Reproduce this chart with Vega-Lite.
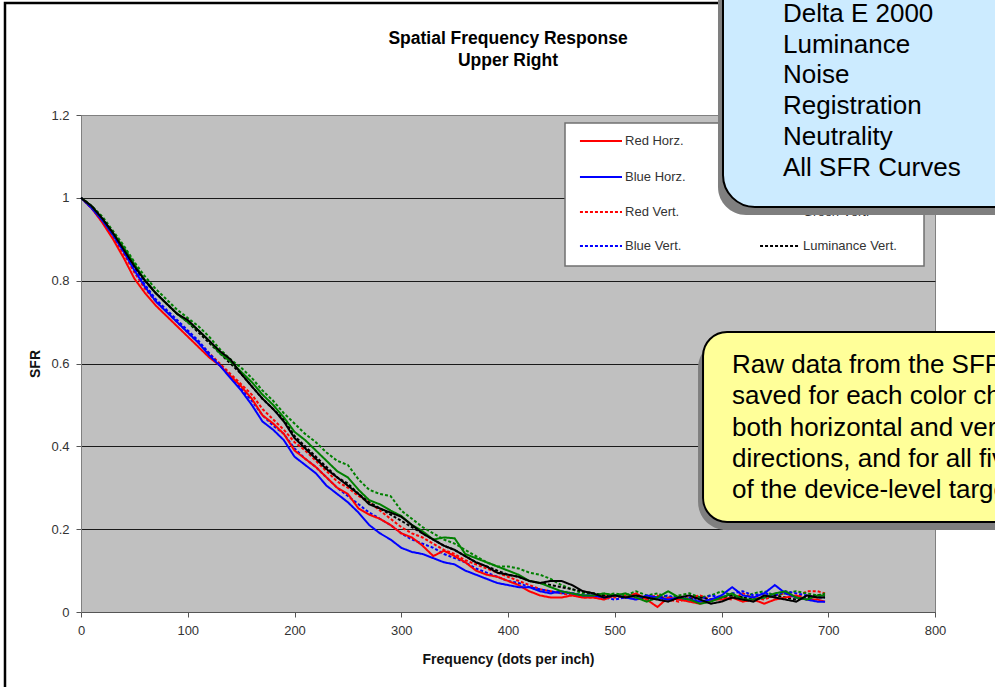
{
  "$schema": "https://vega.github.io/schema/vega-lite/v6.json",
  "width": 854,
  "height": 497,
  "autosize": "none",
  "padding": {"left": 81, "top": 115, "right": 60, "bottom": 75},
  "background": "white",
  "config": {
    "view": {"fill": "#C0C0C0", "stroke": "#808080", "strokeWidth": 1},
    "font": "Liberation Sans",
    "axis": {"labelFont": "Liberation Sans", "titleFont": "Liberation Sans"}
  },
  "datasets": {
    "sfr": [
      {"f":0,"rh":1,"gh":1,"bh":1,"lh":1,"rv":1,"gv":1,"bv":1,"lv":1},
      {"f":10,"rh":0.975,"gh":0.98,"bh":0.975,"lh":0.98,"rv":0.975,"gv":0.98,"bv":0.975,"lv":0.98},
      {"f":20,"rh":0.94,"gh":0.95,"bh":0.945,"lh":0.95,"rv":0.945,"gv":0.955,"bv":0.945,"lv":0.95},
      {"f":30,"rh":0.9,"gh":0.915,"bh":0.91,"lh":0.915,"rv":0.905,"gv":0.92,"bv":0.91,"lv":0.915},
      {"f":40,"rh":0.855,"gh":0.88,"bh":0.87,"lh":0.875,"rv":0.865,"gv":0.885,"bv":0.87,"lv":0.875},
      {"f":50,"rh":0.805,"gh":0.84,"bh":0.825,"lh":0.835,"rv":0.82,"gv":0.845,"bv":0.83,"lv":0.835},
      {"f":60,"rh":0.77,"gh":0.8,"bh":0.785,"lh":0.8,"rv":0.78,"gv":0.81,"bv":0.79,"lv":0.8},
      {"f":70,"rh":0.74,"gh":0.77,"bh":0.75,"lh":0.77,"rv":0.75,"gv":0.78,"bv":0.755,"lv":0.77},
      {"f":80,"rh":0.715,"gh":0.745,"bh":0.725,"lh":0.745,"rv":0.725,"gv":0.755,"bv":0.73,"lv":0.745},
      {"f":90,"rh":0.69,"gh":0.72,"bh":0.7,"lh":0.72,"rv":0.7,"gv":0.73,"bv":0.705,"lv":0.72},
      {"f":100,"rh":0.665,"gh":0.7,"bh":0.675,"lh":0.705,"rv":0.675,"gv":0.71,"bv":0.68,"lv":0.7},
      {"f":110,"rh":0.64,"gh":0.68,"bh":0.65,"lh":0.68,"rv":0.65,"gv":0.69,"bv":0.655,"lv":0.675},
      {"f":120,"rh":0.615,"gh":0.655,"bh":0.62,"lh":0.655,"rv":0.625,"gv":0.665,"bv":0.625,"lv":0.65},
      {"f":130,"rh":0.595,"gh":0.625,"bh":0.595,"lh":0.63,"rv":0.6,"gv":0.635,"bv":0.595,"lv":0.625},
      {"f":140,"rh":0.57,"gh":0.605,"bh":0.565,"lh":0.61,"rv":0.575,"gv":0.61,"bv":0.57,"lv":0.6},
      {"f":150,"rh":0.545,"gh":0.58,"bh":0.535,"lh":0.575,"rv":0.55,"gv":0.59,"bv":0.54,"lv":0.575},
      {"f":160,"rh":0.515,"gh":0.555,"bh":0.5,"lh":0.545,"rv":0.525,"gv":0.565,"bv":0.51,"lv":0.545},
      {"f":170,"rh":0.475,"gh":0.525,"bh":0.46,"lh":0.515,"rv":0.49,"gv":0.535,"bv":0.475,"lv":0.515},
      {"f":180,"rh":0.455,"gh":0.5,"bh":0.44,"lh":0.49,"rv":0.465,"gv":0.51,"bv":0.45,"lv":0.49},
      {"f":190,"rh":0.43,"gh":0.47,"bh":0.415,"lh":0.46,"rv":0.44,"gv":0.48,"bv":0.43,"lv":0.465},
      {"f":200,"rh":0.39,"gh":0.435,"bh":0.375,"lh":0.42,"rv":0.41,"gv":0.455,"bv":0.395,"lv":0.425},
      {"f":210,"rh":0.37,"gh":0.415,"bh":0.355,"lh":0.395,"rv":0.39,"gv":0.43,"bv":0.37,"lv":0.4},
      {"f":220,"rh":0.35,"gh":0.39,"bh":0.335,"lh":0.37,"rv":0.365,"gv":0.41,"bv":0.35,"lv":0.375},
      {"f":230,"rh":0.325,"gh":0.365,"bh":0.305,"lh":0.345,"rv":0.34,"gv":0.385,"bv":0.325,"lv":0.35},
      {"f":240,"rh":0.3,"gh":0.34,"bh":0.285,"lh":0.325,"rv":0.315,"gv":0.365,"bv":0.3,"lv":0.325},
      {"f":250,"rh":0.285,"gh":0.325,"bh":0.265,"lh":0.305,"rv":0.3,"gv":0.355,"bv":0.28,"lv":0.31},
      {"f":260,"rh":0.25,"gh":0.295,"bh":0.24,"lh":0.285,"rv":0.28,"gv":0.32,"bv":0.26,"lv":0.285},
      {"f":270,"rh":0.235,"gh":0.27,"bh":0.21,"lh":0.26,"rv":0.265,"gv":0.295,"bv":0.24,"lv":0.265},
      {"f":280,"rh":0.225,"gh":0.26,"bh":0.19,"lh":0.25,"rv":0.245,"gv":0.285,"bv":0.225,"lv":0.25},
      {"f":290,"rh":0.21,"gh":0.245,"bh":0.175,"lh":0.24,"rv":0.225,"gv":0.28,"bv":0.21,"lv":0.235},
      {"f":300,"rh":0.19,"gh":0.232,"bh":0.155,"lh":0.23,"rv":0.205,"gv":0.245,"bv":0.19,"lv":0.22},
      {"f":310,"rh":0.18,"gh":0.21,"bh":0.145,"lh":0.21,"rv":0.19,"gv":0.225,"bv":0.175,"lv":0.205},
      {"f":320,"rh":0.16,"gh":0.195,"bh":0.14,"lh":0.19,"rv":0.18,"gv":0.205,"bv":0.165,"lv":0.19},
      {"f":330,"rh":0.135,"gh":0.175,"bh":0.13,"lh":0.175,"rv":0.165,"gv":0.19,"bv":0.155,"lv":0.175},
      {"f":340,"rh":0.148,"gh":0.18,"bh":0.12,"lh":0.16,"rv":0.15,"gv":0.175,"bv":0.14,"lv":0.16},
      {"f":350,"rh":0.135,"gh":0.178,"bh":0.115,"lh":0.15,"rv":0.14,"gv":0.165,"bv":0.13,"lv":0.15},
      {"f":360,"rh":0.12,"gh":0.14,"bh":0.1,"lh":0.135,"rv":0.125,"gv":0.15,"bv":0.12,"lv":0.135},
      {"f":370,"rh":0.1,"gh":0.13,"bh":0.09,"lh":0.12,"rv":0.115,"gv":0.135,"bv":0.105,"lv":0.12},
      {"f":380,"rh":0.09,"gh":0.12,"bh":0.08,"lh":0.11,"rv":0.105,"gv":0.12,"bv":0.095,"lv":0.11},
      {"f":390,"rh":0.085,"gh":0.11,"bh":0.07,"lh":0.095,"rv":0.095,"gv":0.11,"bv":0.085,"lv":0.1},
      {"f":400,"rh":0.075,"gh":0.1,"bh":0.065,"lh":0.09,"rv":0.085,"gv":0.11,"bv":0.075,"lv":0.09},
      {"f":410,"rh":0.065,"gh":0.09,"bh":0.06,"lh":0.085,"rv":0.075,"gv":0.105,"bv":0.07,"lv":0.085},
      {"f":420,"rh":0.05,"gh":0.075,"bh":0.06,"lh":0.075,"rv":0.065,"gv":0.095,"bv":0.06,"lv":0.075},
      {"f":430,"rh":0.04,"gh":0.07,"bh":0.05,"lh":0.07,"rv":0.055,"gv":0.09,"bv":0.055,"lv":0.07},
      {"f":440,"rh":0.035,"gh":0.06,"bh":0.045,"lh":0.075,"rv":0.05,"gv":0.08,"bv":0.05,"lv":0.065},
      {"f":450,"rh":0.035,"gh":0.05,"bh":0.05,"lh":0.075,"rv":0.045,"gv":0.065,"bv":0.045,"lv":0.06},
      {"f":460,"rh":0.04,"gh":0.045,"bh":0.045,"lh":0.065,"rv":0.04,"gv":0.055,"bv":0.045,"lv":0.055},
      {"f":470,"rh":0.035,"gh":0.04,"bh":0.04,"lh":0.05,"rv":0.035,"gv":0.045,"bv":0.04,"lv":0.05},
      {"f":480,"rh":0.035,"gh":0.04,"bh":0.04,"lh":0.045,"rv":0.035,"gv":0.045,"bv":0.04,"lv":0.045},
      {"f":490,"rh":0.03,"gh":0.045,"bh":0.035,"lh":0.035,"rv":0.04,"gv":0.04,"bv":0.035,"lv":0.04},
      {"f":500,"rh":0.04,"gh":0.04,"bh":0.04,"lh":0.04,"rv":0.035,"gv":0.045,"bv":0.03,"lv":0.04},
      {"f":510,"rh":0.035,"gh":0.045,"bh":0.035,"lh":0.035,"rv":0.04,"gv":0.04,"bv":0.035,"lv":0.035},
      {"f":520,"rh":0.045,"gh":0.035,"bh":0.03,"lh":0.04,"rv":0.03,"gv":0.05,"bv":0.04,"lv":0.04},
      {"f":530,"rh":0.03,"gh":0.025,"bh":0.04,"lh":0.035,"rv":0.035,"gv":0.04,"bv":0.03,"lv":0.03},
      {"f":540,"rh":0.012,"gh":0.035,"bh":0.035,"lh":0.03,"rv":0.04,"gv":0.045,"bv":0.035,"lv":0.035},
      {"f":550,"rh":0.035,"gh":0.05,"bh":0.03,"lh":0.025,"rv":0.03,"gv":0.035,"bv":0.04,"lv":0.03},
      {"f":560,"rh":0.03,"gh":0.035,"bh":0.035,"lh":0.035,"rv":0.025,"gv":0.04,"bv":0.03,"lv":0.035},
      {"f":570,"rh":0.025,"gh":0.03,"bh":0.03,"lh":0.04,"rv":0.035,"gv":0.045,"bv":0.035,"lv":0.03},
      {"f":580,"rh":0.02,"gh":0.02,"bh":0.025,"lh":0.03,"rv":0.04,"gv":0.035,"bv":0.03,"lv":0.035},
      {"f":590,"rh":0.03,"gh":0.025,"bh":0.03,"lh":0.02,"rv":0.03,"gv":0.04,"bv":0.04,"lv":0.03},
      {"f":600,"rh":0.03,"gh":0.035,"bh":0.04,"lh":0.025,"rv":0.035,"gv":0.05,"bv":0.035,"lv":0.035},
      {"f":610,"rh":0.035,"gh":0.045,"bh":0.06,"lh":0.035,"rv":0.03,"gv":0.04,"bv":0.045,"lv":0.04},
      {"f":620,"rh":0.025,"gh":0.03,"bh":0.04,"lh":0.03,"rv":0.045,"gv":0.035,"bv":0.05,"lv":0.035},
      {"f":630,"rh":0.03,"gh":0.03,"bh":0.035,"lh":0.025,"rv":0.035,"gv":0.045,"bv":0.04,"lv":0.03},
      {"f":640,"rh":0.02,"gh":0.035,"bh":0.045,"lh":0.04,"rv":0.03,"gv":0.05,"bv":0.045,"lv":0.035},
      {"f":650,"rh":0.03,"gh":0.045,"bh":0.065,"lh":0.035,"rv":0.04,"gv":0.04,"bv":0.04,"lv":0.04},
      {"f":660,"rh":0.035,"gh":0.05,"bh":0.045,"lh":0.03,"rv":0.045,"gv":0.045,"bv":0.05,"lv":0.035},
      {"f":670,"rh":0.04,"gh":0.035,"bh":0.035,"lh":0.025,"rv":0.035,"gv":0.05,"bv":0.045,"lv":0.03},
      {"f":680,"rh":0.03,"gh":0.03,"bh":0.03,"lh":0.04,"rv":0.05,"gv":0.045,"bv":0.04,"lv":0.035},
      {"f":690,"rh":0.03,"gh":0.04,"bh":0.025,"lh":0.035,"rv":0.05,"gv":0.04,"bv":0.035,"lv":0.04},
      {"f":697,"rh":0.025,"gh":0.04,"bh":0.025,"lh":0.035,"rv":0.045,"gv":0.045,"bv":0.035,"lv":0.04}
    ],
    "frame": [{"x1": -71.2, "x2": 950, "y1": 1.4704, "y2": -0.25}],
    "titleLines": [
      {"line": "Spatial Frequency Response", "x": 400, "y": 1.3714},
      {"line": "Upper Right", "x": 400, "y": 1.3183}
    ],
    "legendBox": [{"x1": 453.4, "x2": 789.7, "y1": 1.1807, "y2": 0.8354}],
    "legendItems": [
      {"s": "rh", "label": "Red Horz.", "x1": 467.4, "x2": 506.8, "y": 1.1372},
      {"s": "gh", "label": "Green Horz.", "x1": 636.1, "x2": 673.5, "y": 1.1372},
      {"s": "bh", "label": "Blue Horz.", "x1": 467.4, "x2": 506.8, "y": 1.0503},
      {"s": "lh", "label": "Luminance Horz.", "x1": 636.1, "x2": 673.5, "y": 1.0503},
      {"s": "rv", "label": "Red Vert.", "x1": 467.4, "x2": 506.8, "y": 0.9658},
      {"s": "gv", "label": "Green Vert.", "x1": 636.1, "x2": 673.5, "y": 0.9658},
      {"s": "bv", "label": "Blue Vert.", "x1": 467.4, "x2": 506.8, "y": 0.8837},
      {"s": "lv", "label": "Luminance Vert.", "x1": 636.1, "x2": 673.5, "y": 0.8837}
    ],
    "notes": [
      {"id": "blue", "x1": 601.4, "x2": 950, "y1": 1.6, "y2": 0.9778},
      {"id": "yellow", "x1": 582.7, "x2": 950, "y1": 0.676, "y2": 0.2173}
    ],
    "noteLines": [
      {"id": "blue", "line": "Delta E 2000", "x": 657.6, "y": 1.4245},
      {"id": "blue", "line": "Luminance", "x": 657.6, "y": 1.3504},
      {"id": "blue", "line": "Noise", "x": 657.6, "y": 1.2763},
      {"id": "blue", "line": "Registration", "x": 657.6, "y": 1.2022},
      {"id": "blue", "line": "Neutrality", "x": 657.6, "y": 1.128},
      {"id": "blue", "line": "All SFR Curves", "x": 657.6, "y": 1.0539},
      {"id": "yellow", "line": "Raw data from the SFR analysis is", "x": 609.8, "y": 0.5771},
      {"id": "yellow", "line": "saved for each color channel, in", "x": 609.8, "y": 0.5015},
      {"id": "yellow", "line": "both horizontal and vertical", "x": 609.8, "y": 0.4259},
      {"id": "yellow", "line": "directions, and for all five regions", "x": 609.8, "y": 0.3503},
      {"id": "yellow", "line": "of the device-level target.", "x": 609.8, "y": 0.2748}
    ]
  },
  "layer": [
    {
      "data": {"name": "sfr"},
      "transform": [{"fold": ["rv", "gv", "bv", "lv", "rh", "bh", "gh", "lh"], "as": ["s", "v"]}],
      "mark": {"type": "line", "interpolate": "linear"},
      "encoding": {
        "x": {
          "field": "f", "type": "quantitative",
          "scale": {"domain": [0, 800], "nice": false, "zero": false},
          "axis": {
            "values": [0, 100, 200, 300, 400, 500, 600, 700, 800],
            "title": "Frequency (dots per inch)",
            "grid": false,
            "labelFontSize": 13, "labelColor": "#333333", "labelPadding": 7,
            "labelFlush": false, "labelOverlap": false,
            "tickSize": 5, "tickColor": "#555555", "domainColor": "#555555",
            "titleFontSize": 14, "titleFontWeight": "bold", "titleColor": "#111111", "titlePadding": 15
          }
        },
        "y": {
          "field": "v", "type": "quantitative",
          "scale": {"domain": [0, 1.2], "nice": false, "zero": false},
          "axis": {
            "values": [0, 0.2, 0.4, 0.6, 0.8, 1, 1.2],
            "format": "~g",
            "title": "SFR",
            "grid": true,
            "gridColor": {"condition": {"test": "datum.value > 1.1 || datum.value < 0.1", "value": "#808080"}, "value": "#1a1a1a"},
            "gridWidth": 1,
            "labelFontSize": 13, "labelColor": "#333333", "labelPadding": 7,
            "labelFlush": false, "labelOverlap": false,
            "tickSize": 5, "tickColor": "#555555", "domainColor": "#808080",
            "titleFontSize": 14, "titleFontWeight": "bold", "titleColor": "#111111", "titlePadding": 8
          }
        },
        "color": {
          "field": "s", "type": "nominal", "legend": null,
          "scale": {"domain": ["rh", "gh", "bh", "lh", "rv", "gv", "bv", "lv"], "range": ["#FF0000", "#008000", "#0000FF", "#000000", "#FF0000", "#008000", "#0000FF", "#000000"]}
        },
        "strokeDash": {
          "field": "s", "type": "nominal", "legend": null,
          "scale": {"domain": ["rh", "gh", "bh", "lh", "rv", "gv", "bv", "lv"], "range": [[1, 0], [1, 0], [1, 0], [1, 0], [3, 2], [3, 2], [3, 2], [3, 2]]}
        },
        "strokeWidth": {
          "field": "s", "type": "nominal", "legend": null,
          "scale": {"domain": ["rh", "gh", "bh", "lh", "rv", "gv", "bv", "lv"], "range": [2, 2, 2, 2, 1.5, 1.5, 1.5, 1.5]}
        }
      }
    },
    {
      "data": {"name": "frame"},
      "mark": {"type": "rect", "filled": false, "stroke": "#000000", "strokeWidth": 2.5},
      "encoding": {
        "x": {"field": "x1", "type": "quantitative", "scale": {"domain": [0, 800], "nice": false, "zero": false}},
        "x2": {"field": "x2"},
        "y": {"field": "y1", "type": "quantitative", "scale": {"domain": [0, 1.2], "nice": false, "zero": false}},
        "y2": {"field": "y2"}
      }
    },
    {
      "data": {"name": "titleLines"},
      "mark": {"type": "text", "align": "center", "baseline": "alphabetic", "fontSize": 17.5, "fontWeight": "bold", "font": "Liberation Sans", "color": "#000000"},
      "encoding": {
        "x": {"field": "x", "type": "quantitative", "scale": {"domain": [0, 800], "nice": false, "zero": false}},
        "y": {"field": "y", "type": "quantitative", "scale": {"domain": [0, 1.2], "nice": false, "zero": false}},
        "text": {"field": "line", "type": "nominal"}
      }
    },
    {
      "data": {"name": "legendBox"},
      "mark": {"type": "rect", "fill": "#FFFFFF", "stroke": "#707070", "strokeWidth": 1.5},
      "encoding": {
        "x": {"field": "x1", "type": "quantitative", "scale": {"domain": [0, 800], "nice": false, "zero": false}},
        "x2": {"field": "x2"},
        "y": {"field": "y1", "type": "quantitative", "scale": {"domain": [0, 1.2], "nice": false, "zero": false}},
        "y2": {"field": "y2"}
      }
    },
    {
      "data": {"name": "legendItems"},
      "mark": {"type": "rule"},
      "encoding": {
        "x": {"field": "x1", "type": "quantitative", "scale": {"domain": [0, 800], "nice": false, "zero": false}},
        "x2": {"field": "x2"},
        "y": {"field": "y", "type": "quantitative", "scale": {"domain": [0, 1.2], "nice": false, "zero": false}},
        "color": {"field": "s", "type": "nominal", "legend": null, "scale": {"domain": ["rh", "gh", "bh", "lh", "rv", "gv", "bv", "lv"], "range": ["#FF0000", "#008000", "#0000FF", "#000000", "#FF0000", "#008000", "#0000FF", "#000000"]}},
        "strokeDash": {"field": "s", "type": "nominal", "legend": null, "scale": {"domain": ["rh", "gh", "bh", "lh", "rv", "gv", "bv", "lv"], "range": [[1, 0], [1, 0], [1, 0], [1, 0], [3, 2], [3, 2], [3, 2], [3, 2]]}},
        "strokeWidth": {"field": "s", "type": "nominal", "legend": null, "scale": {"domain": ["rh", "gh", "bh", "lh", "rv", "gv", "bv", "lv"], "range": [2, 2, 2, 2, 1.5, 1.5, 1.5, 1.5]}}
      }
    },
    {
      "data": {"name": "legendItems"},
      "mark": {"type": "text", "align": "left", "baseline": "middle", "dx": 3, "fontSize": 13, "font": "Liberation Sans", "color": "#333333"},
      "encoding": {
        "x": {"field": "x2", "type": "quantitative", "scale": {"domain": [0, 800], "nice": false, "zero": false}},
        "y": {"field": "y", "type": "quantitative", "scale": {"domain": [0, 1.2], "nice": false, "zero": false}},
        "text": {"field": "label", "type": "nominal"}
      }
    },
    {
      "data": {"name": "notes"},
      "mark": {"type": "rect", "fill": "#7F7F7F", "cornerRadius": 28, "xOffset": -5, "x2Offset": -5, "yOffset": 8, "y2Offset": 8},
      "encoding": {
        "x": {"field": "x1", "type": "quantitative", "scale": {"domain": [0, 800], "nice": false, "zero": false}},
        "x2": {"field": "x2"},
        "y": {"field": "y1", "type": "quantitative", "scale": {"domain": [0, 1.2], "nice": false, "zero": false}},
        "y2": {"field": "y2"}
      }
    },
    {
      "data": {"name": "notes"},
      "transform": [{"filter": "datum.id === 'blue'"}],
      "mark": {"type": "rect", "fill": "#CCEBFF", "stroke": "#000000", "strokeWidth": 2, "cornerRadius": 32},
      "encoding": {
        "x": {"field": "x1", "type": "quantitative", "scale": {"domain": [0, 800], "nice": false, "zero": false}},
        "x2": {"field": "x2"},
        "y": {"field": "y1", "type": "quantitative", "scale": {"domain": [0, 1.2], "nice": false, "zero": false}},
        "y2": {"field": "y2"}
      }
    },
    {
      "data": {"name": "notes"},
      "transform": [{"filter": "datum.id === 'yellow'"}],
      "mark": {"type": "rect", "fill": "#FFFF99", "stroke": "#000000", "strokeWidth": 2, "cornerRadius": 24},
      "encoding": {
        "x": {"field": "x1", "type": "quantitative", "scale": {"domain": [0, 800], "nice": false, "zero": false}},
        "x2": {"field": "x2"},
        "y": {"field": "y1", "type": "quantitative", "scale": {"domain": [0, 1.2], "nice": false, "zero": false}},
        "y2": {"field": "y2"}
      }
    },
    {
      "data": {"name": "noteLines"},
      "mark": {"type": "text", "align": "left", "baseline": "alphabetic", "fontSize": 26, "font": "Liberation Sans", "color": "#000000"},
      "encoding": {
        "x": {"field": "x", "type": "quantitative", "scale": {"domain": [0, 800], "nice": false, "zero": false}},
        "y": {"field": "y", "type": "quantitative", "scale": {"domain": [0, 1.2], "nice": false, "zero": false}},
        "text": {"field": "line", "type": "nominal"}
      }
    }
  ]
}
